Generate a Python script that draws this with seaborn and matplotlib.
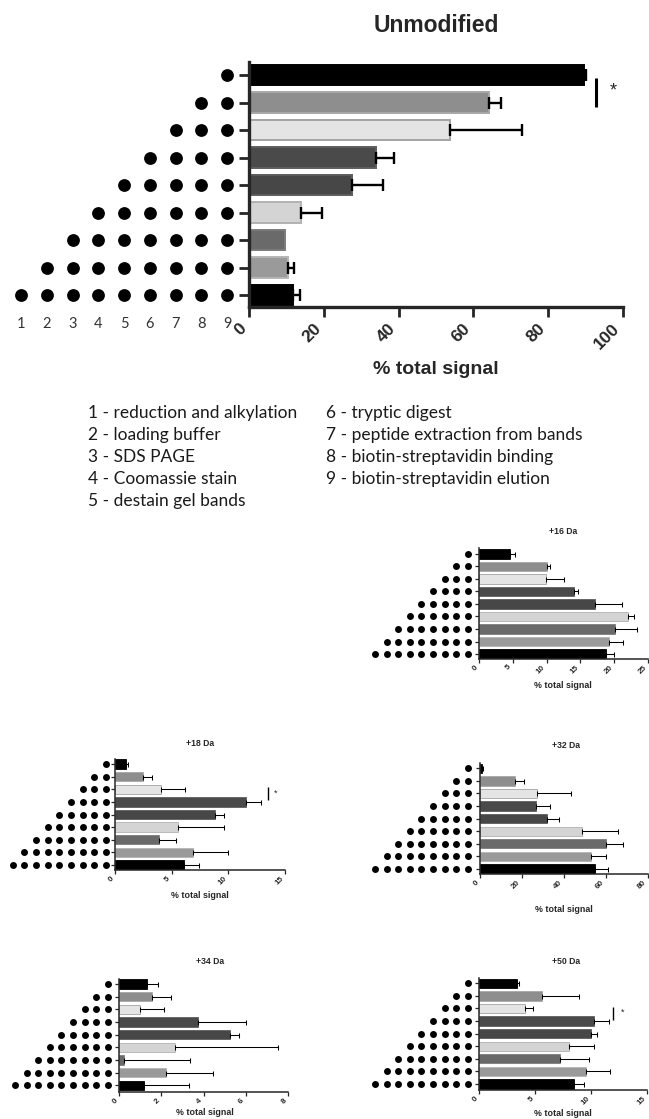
import numpy as np
import pandas as pd
import matplotlib
matplotlib.use('Agg')
import matplotlib.pyplot as plt
import seaborn as sns

# ---------------- data ----------------
row_labels = ['9', '8-9', '7-9', '6-9', '5-9', '4-9', '3-9', '2-9', '1-9']
row_first_step = [9, 8, 7, 6, 5, 4, 3, 2, 1]
steps = [1, 2, 3, 4, 5, 6, 7, 8, 9]
step_names = ['reduction and alkylation', 'loading buffer', 'SDS PAGE',
              'Coomassie stain', 'destain gel bands', 'tryptic digest',
              'peptide extraction from bands', 'biotin-streptavidin binding',
              'biotin-streptavidin elution']

bar_colors = ['#000000', '#8e8e8e', '#e4e4e4', '#4a4a4a', '#474747',
              '#d4d4d4', '#6a6a6a', '#9a9a9a', '#000000']
bar_edges = ['#000000', '#a8a8a8', '#a3a3a3', '#5e5e5e', '#5c5c5c',
             '#b2b2b2', '#7c7c7c', '#b5b5b5', '#000000']

unmod_values = [89.5, 64.1, 53.8, 34.0, 27.6, 13.8, 9.7, 10.3, 11.7]
unmod_errors = [0.5, 3.3, 19.2, 4.7, 8.3, 5.7, 0.0, 1.7, 1.9]

da16_values = [4.55, 10.1, 9.9, 14.0, 17.2, 22.1, 20.1, 19.2, 18.8]
da16_errors = [0.75, 0.4, 2.7, 0.6, 3.9, 0.9, 3.2, 2.1, 1.2]

da18_values = [0.97, 2.5, 4.1, 11.6, 8.8, 5.6, 3.9, 6.85, 6.1]
da18_errors = [0.18, 0.76, 2.1, 1.3, 0.8, 4.05, 1.5, 3.15, 1.3]

da32_values = [1.0, 16.7, 27.0, 26.7, 32.0, 48.4, 60.0, 52.7, 54.9]
da32_errors = [0.5, 4.3, 16.2, 6.6, 5.6, 17.5, 8.0, 7.3, 6.2]

da34_values = [1.3, 1.53, 0.98, 3.75, 5.27, 2.63, 0.22, 2.21, 1.17]
da34_errors = [0.55, 0.9, 1.15, 2.28, 0.41, 4.89, 3.12, 2.24, 2.14]

da50_values = [3.39, 5.65, 4.08, 10.24, 9.97, 8.04, 7.2, 9.58, 8.48]
da50_errors = [0.18, 3.28, 0.68, 1.34, 0.6, 2.23, 2.59, 2.09, 0.9]

# ---------------- figure ----------------
sns.set_style('ticks')
plt.rcParams['font.family'] = ['Liberation Sans', 'DejaVu Sans']
W, H = 649, 1119
fig = plt.figure(figsize=(W / 100, H / 100), dpi=100)


def box(x0, y0, x1, y1):
    return [x0 / W, 1 - y1 / H, (x1 - x0) / W, (y1 - y0) / H]


dots_df = pd.DataFrame([(s, r) for r, f in enumerate(row_first_step)
                        for s in steps if s >= f], columns=['step', 'row'])


def panel(values, errors, title, xb, rows_px, ylims_px, xmax, xstep,
          dots_px, title_xy, xlabel_xy, big=False, sig=None):
    x0, x1 = xb
    r0, r8 = rows_px
    top, bot = ylims_px
    sp = (r8 - r0) / 8.0
    ylim = ((bot - r0) / sp, (top - r0) / sp)
    ax = fig.add_axes(box(x0, top, x1, bot))
    df = pd.DataFrame({'row': row_labels, 'value': values})
    sns.barplot(data=df, x='value', y='row', hue='row', palette=bar_colors,
                legend=False, width=0.76 if big else 0.74, saturation=1,
                errorbar=None, ax=ax, zorder=2)
    for p, ec in zip(ax.patches, bar_edges):
        p.set_edgecolor(ec)
        p.set_linewidth(1.4 if big else 0.6)
    vals = np.array(values)
    errs = np.array(errors)
    pos = np.arange(len(vals))
    m = errs > 0
    elw = 1.7 if big else 0.75
    ax.errorbar(vals[m], pos[m], xerr=[np.zeros(m.sum()), errs[m]], fmt='none',
                ecolor='black', elinewidth=elw, capsize=4 if big else 1.8,
                capthick=elw, clip_on=False, zorder=3)
    ax.set_xlim(0, xmax)
    ax.set_ylim(*ylim)
    ticks = np.arange(0, xmax + 0.001, xstep)
    ax.set_xticks(ticks)
    ax.set_xticklabels([f'{t:g}' for t in ticks], rotation=45, ha='right',
                       va='top', fontweight='bold', fontsize=12.5 if big else 5.8)
    ax.set_yticks(pos)
    ax.set_yticklabels([])
    ax.set_xlabel('')
    ax.set_ylabel('')
    sns.despine(ax=ax)
    sw = 2.4 if big else 1.1
    for s in ['left', 'bottom']:
        ax.spines[s].set_linewidth(sw)
    ax.tick_params(axis='both', direction='out', length=7 if big else 2.6,
                   width=2.0 if big else 0.9, pad=3 if big else 1.2)
    ax.set_facecolor('none')
    if sig is not None:
        (lx, ly0, ly1), (axx, ayy) = sig
        ax.plot([lx, lx], [ly0, ly1], color='black', lw=2.2 if big else 1.0,
                clip_on=False, solid_capstyle='butt')
        ax.text(axx, ayy, '*', ha='center', va='center',
                fontsize=13 if big else 6.5, clip_on=False)
    # dots
    p1, p9 = dots_px
    s = (p9 - p1) / 8.0
    dax = fig.add_axes(box(p1 - s, top, p9 + s, bot))
    sns.scatterplot(data=dots_df, x='step', y='row', color='black',
                    s=85 if big else 25, linewidth=0, ax=dax, zorder=3)
    dax.set_xlim(0, 10)
    dax.set_ylim(*ylim)
    dax.set_facecolor('none')
    for sp_ in dax.spines.values():
        sp_.set_visible(False)
    dax.set_ylabel('')
    dax.set_xlabel('')
    dax.set_yticks([])
    if big:
        dax.set_xticks(steps)
        dax.set_xticklabels([str(v) for v in steps], fontsize=10.5,
                            family=['Lato', 'DejaVu Sans'], color='#333333')
        dax.tick_params(axis='x', length=0, pad=7)
    else:
        dax.set_xticks([])
    # title and label
    fig.text(title_xy[0] / W, 1 - title_xy[1] / H, title, ha='center',
             va='center', fontweight='bold', fontsize=16.5 if big else 6.2)
    fig.text(xlabel_xy[0] / W, 1 - xlabel_xy[1] / H, '% total signal',
             ha='center', va='center', fontweight='bold',
             fontsize=14 if big else 6.4)
    return ax


panel(unmod_values, unmod_errors, 'Unmodified', (249, 623), (75, 295),
      (62, 307), 100, 20, (21, 227), (436, 25), (436, 370), big=True,
      sig=((92.8, 0.1, 1.15), (97.3, 0.58)))

panel(da16_values, da16_errors, '+16 Da', (479, 648), (554, 654),
      (548.4, 658.5), 25, 5, (375, 467.7), (563, 531), (563, 686))

panel(da18_values, da18_errors, '+18 Da', (115, 285), (764, 865),
      (758.5, 870), 15, 5, (12.7, 106), (200, 743), (200, 896),
      sig=((13.5, 1.82, 2.85), (14.2, 2.3)))

panel(da32_values, da32_errors, '+32 Da', (480, 648), (768.3, 869),
      (762.7, 874), 80, 20, (375, 467.7), (566, 745), (564, 910))

panel(da34_values, da34_errors, '+34 Da', (119.3, 288), (984, 1085.3),
      (978.5, 1091.7), 8, 2, (15, 107.7), (210, 962), (205, 1112.7))

panel(da50_values, da50_errors, '+50 Da', (479.3, 647), (983.3, 1084),
      (977.8, 1090), 15, 5, (375, 467.7), (566, 961), (563, 1114),
      sig=((12.0, 1.87, 2.95), (12.8, 2.3)))

# step legend text
line_y = [413, 435, 457, 479, 501]
for i, (st, name) in enumerate(zip(steps, step_names)):
    col = 0 if i < 5 else 1
    xpx = 88 if col == 0 else 326
    ypx = line_y[i if col == 0 else i - 5]
    fig.text(xpx / W, 1 - ypx / H, f'{st} - {name}', ha='left', va='center',
             fontsize=12.5, family=['Lato', 'DejaVu Sans'], color='#1a1a1a')

fig.savefig('out.png', dpi=100)
